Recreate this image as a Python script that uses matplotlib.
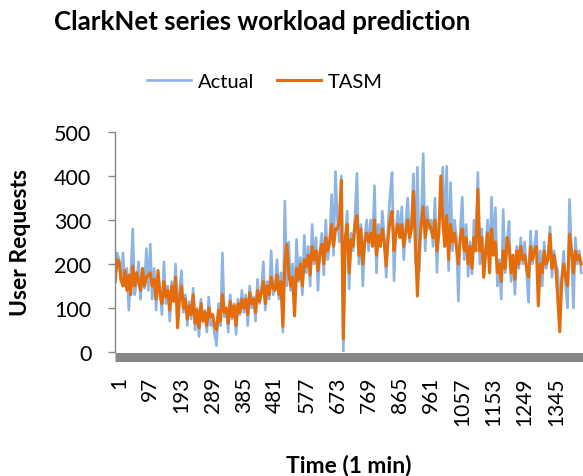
import matplotlib
matplotlib.use('Agg')
import matplotlib.pyplot as plt
import matplotlib.transforms as mtransforms
import numpy as np

plt.rcParams['font.family'] = ['Lato', 'DejaVu Sans']

minutes = np.arange(1, 1441, 6)

actual = [190, 225,
          210, 160, 225, 150, 190, 95, 175, 280, 130, 160, 205, 120, 180, 145, 235, 140,
          245, 120, 190, 95, 175, 140, 85, 205, 110, 150, 70, 160, 120, 200, 60, 140,
          185, 90, 130, 60, 115, 75, 145, 50, 100, 35, 120, 70, 95, 45, 125, 60,
          70, 40, 15, 110, 60, 225, 80, 100, 45, 130, 75, 110, 40, 120, 85, 140,
          90, 130, 60, 150, 100, 125, 70, 165, 110, 140, 205, 95, 160, 120, 230, 130,
          150, 210, 120, 180, 45, 343, 150, 250, 140, 200, 100, 256, 160, 215, 130, 265,
          180, 240, 150, 290, 200, 260, 140, 230, 270, 175, 300, 210, 250, 358, 220, 410,
          300, 250, 400, 0, 250, 320, 143, 270, 230, 310, 406, 200, 290, 150, 260, 300,
          230, 300, 250, 378, 180, 290, 240, 320, 260, 170, 290, 360, 408, 162, 280, 320,
          260, 330, 210, 290, 350, 250, 300, 405, 200, 420, 184, 310, 451, 230, 330, 280,
          300, 240, 350, 181, 290, 330, 420, 260, 422, 185, 385, 230, 300, 260, 116, 280,
          352, 210, 290, 172, 250, 177, 300, 240, 408, 200, 280, 170, 230, 300, 190, 352,
          230, 328, 150, 210, 120, 324, 180, 250, 297, 160, 220, 131, 240, 190, 260, 200,
          250, 180, 113, 275, 200, 240, 275, 170, 230, 150, 250, 190, 220, 285, 170, 230,
          200, 184, 90, 170, 229, 150, 100, 347, 230, 100, 260, 200, 230, 180]

tasm = [160, 210,
        205, 165, 150, 185, 140, 175, 130, 195, 150, 180, 160, 140, 190, 150, 170, 175,
        180, 150, 165, 120, 185, 130, 110, 160, 125, 140, 95, 150, 115, 170, 55, 120,
        150, 100, 120, 75, 105, 85, 130, 65, 95, 55, 110, 70, 90, 60, 100, 80,
        85, 60, 50, 95, 70, 130, 90, 100, 65, 115, 80, 105, 60, 110, 90, 120,
        100, 120, 85, 135, 110, 120, 90, 140, 115, 135, 160, 110, 150, 130, 170, 145,
        140, 175, 130, 160, 58, 200, 245, 180, 150, 170, 82, 190, 165, 200, 150, 210,
        195, 220, 175, 240, 210, 230, 185, 225, 245, 200, 260, 230, 250, 290, 240, 280,
        280, 300, 390, 30, 260, 290, 180, 255, 240, 290, 310, 220, 280, 200, 250, 270,
        250, 270, 240, 300, 220, 265, 240, 280, 250, 195, 260, 300, 320, 230, 270, 290,
        260, 290, 240, 270, 300, 260, 280, 365, 250, 127, 240, 290, 330, 260, 300, 290,
        280, 260, 300, 230, 270, 400, 300, 240, 310, 210, 290, 250, 270, 240, 200, 260,
        280, 230, 260, 200, 240, 190, 260, 230, 370, 230, 260, 170, 230, 270, 180, 280,
        220, 250, 180, 200, 160, 230, 190, 260, 240, 180, 220, 165, 230, 200, 240, 210,
        220, 190, 170, 240, 210, 230, 240, 105, 200, 180, 230, 200, 210, 268, 190, 220,
        190, 120, 46, 160, 200, 170, 150, 268, 230, 180, 230, 210, 220, 200]

xtick_vals = list(range(1, 1441, 96))
ytick_vals = [0, 100, 200, 300, 400, 500]

W, H = 583, 477
fig = plt.figure(figsize=(W / 100, H / 100), dpi=100)
ax = fig.add_axes([115 / W, (H - 353) / H, 468 / W, (353 - 133) / H])

ax.plot(minutes, actual, color='#8DB4E2', lw=1.9, label='Actual')
ax.plot(minutes, tasm, color='#E46C0A', lw=2.2, label='TASM')

ax.set_xlim(0.5, 1440.5)
ax.set_ylim(0, 500)

# axis styling (Excel look)
for s in ['top', 'right']:
    ax.spines[s].set_visible(False)
ax.spines['left'].set_color('#868686')
ax.spines['left'].set_linewidth(1.0)
ax.spines['bottom'].set_color('#878787')
ax.spines['bottom'].set_linewidth(6.5)
ax.spines['bottom'].set_position(('outward', 3.3))
ax.spines['bottom'].set_capstyle('butt')

ax.set_yticks(ytick_vals)
ax.set_yticklabels([str(v) for v in ytick_vals], fontsize=15.5)
ax.tick_params(axis='y', length=5, width=1, color='#868686', pad=12)

ax.set_xticks(xtick_vals)
ax.set_xticklabels([str(v) for v in xtick_vals], rotation=90, fontsize=15, va='top', ha='center')
ax.tick_params(axis='x', length=0, pad=14)
offset = mtransforms.ScaledTranslation(4 / 100, 0, fig.dpi_scale_trans)
for lab in ax.get_xticklabels():
    lab.set_transform(lab.get_transform() + offset)

ax.set_ylabel('User Requests', fontsize=16.5, fontweight='bold')
ax.yaxis.set_label_coords(-0.18, 0.5)
fig.text(349 / W, 1 - 466 / H, 'Time (1 min)', fontsize=16.5, fontweight='bold', ha='center', va='center')

fig.text(262 / W, 1 - 22 / H, 'ClarkNet series workload prediction', fontsize=18.6,
         fontweight='bold', ha='center', va='center')

fig.legend(loc='center', bbox_to_anchor=(265 / W, 1 - 82 / H), ncol=2, frameon=False,
           fontsize=14.5, handlelength=2.2, handletextpad=0.35, columnspacing=1.1)

plt.savefig('out.png', dpi=100)
